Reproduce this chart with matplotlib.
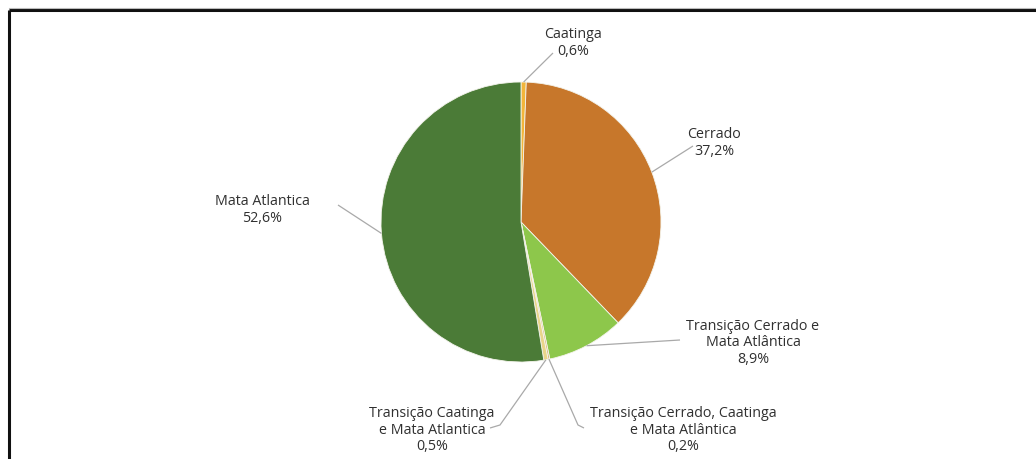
import numpy as np
import matplotlib
matplotlib.use("Agg")
import matplotlib.pyplot as plt

# Biome shares (%), clockwise from 12 o'clock
biomes = [
    "Caatinga",
    "Cerrado",
    "Transição Cerrado e\nMata Atlântica",
    "Transição Cerrado, Caatinga\ne Mata Atlântica",
    "Transição Caatinga\ne Mata Atlantica",
    "Mata Atlantica",
]
shares = [0.6, 37.2, 8.9, 0.2, 0.5, 52.6]
colors = ["#F2B53A", "#C7772B", "#8DC74B", "#D9B36E", "#E9D58A", "#4B7B37"]

W, H = 1036, 459
fig = plt.figure(figsize=(W / 100, H / 100), dpi=100)
ax = fig.add_axes([0, 0, 1, 1])

cx, cy, r = 521, H - 222, 140
wedges, _ = ax.pie(shares, colors=colors, startangle=90, counterclock=False,
                   center=(cx, cy), radius=r, frame=True,
                   wedgeprops=dict(edgecolor="#f4f4ec", linewidth=0.6))
ax.set_xlim(0, W)
ax.set_ylim(0, H)
ax.set_aspect("equal")
ax.axis("off")

# label centres (pixel coords from top-left) and leader-line elbows
label_pos = [(573, 43), (714, 143), (753, 343), (683, 430), (432, 430), (262, 210)]
line_end = [[(553, 53)], [(693, 146)], [(680, 340)],
            [(578, 425), (584, 428)], [(500, 425), (490, 428)], [(338, 205)]]

font = dict(family="Open Sans", fontsize=10.3, color="#303030")
for w, name, val, (lx, ly), ends in zip(wedges, biomes, shares, label_pos, line_end):
    mid = np.deg2rad((w.theta1 + w.theta2) / 2)
    sx, sy = cx + r * np.cos(mid), cy + r * np.sin(mid)
    xs = [sx] + [p[0] for p in ends]
    ys = [sy] + [H - p[1] for p in ends]
    ax.plot(xs, ys, color="#A9A9A9", lw=0.9, solid_capstyle="butt")
    txt = name + "\n" + f"{val:.1f}".replace(".", ",") + "%"
    ax.text(lx, H - ly, txt, ha="center", va="center", linespacing=1.15, **font)

# framing border
ax.plot([9, 9], [H - 10, -5], color="#111111", lw=2.2, solid_capstyle="butt")
ax.plot([9, W + 5], [H - 10, H - 10], color="#111111", lw=2.2, solid_capstyle="butt")
ax.plot([9, W + 5], [H - 7.5, H - 7.5], color="#BBBBBB", lw=0.8)

fig.savefig("out.png", dpi=100)
